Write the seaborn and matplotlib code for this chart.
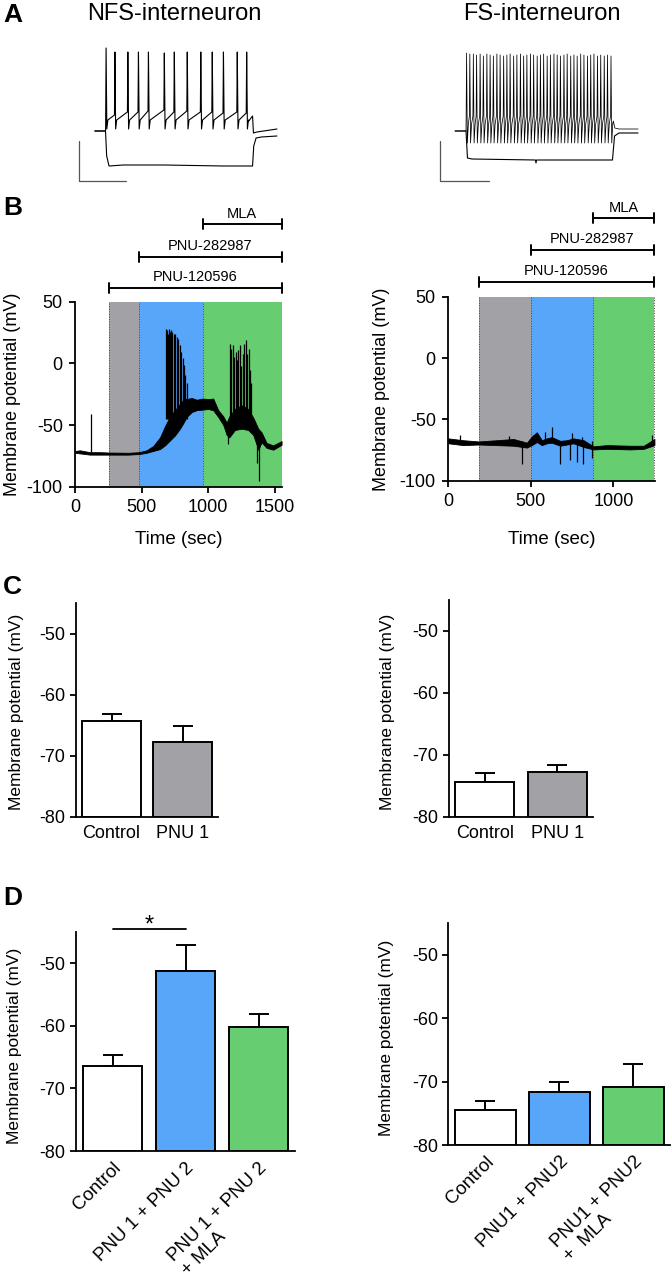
import numpy as np
import pandas as pd
import matplotlib
matplotlib.use("Agg")
import matplotlib.pyplot as plt
import seaborn as sns

# colours of the three drug conditions
GREY = "#A2A2A6"
BLUE = "#57A6FA"
GREEN = "#66CE70"

# ---------------- A : step responses (ms from step onset, mV) ----------------
nfs_spike_t = [2, 32, 76, 112, 146, 200, 234, 278, 324, 363, 401, 448, 480]
nfs_spike_peak = [18, 14, 14, 14, 14, 13, 14, 14, 14, 14, 14, 14, 14]
nfs_ramp_top = [-60, -49, -46, -46, -45, -44, -46, -45, -46, -46, -47, -46, -47]
nfs_hyper_t = [-35, 0, 4, 12, 60, 200, 400, 500, 504, 512, 530, 583]
nfs_hyper_v = [-65, -65, -90, -100, -99, -99, -100, -100, -80, -72, -71, -70]

fs_spike_t = [2, 13, 25, 36, 48, 59, 71, 82, 93, 105, 116, 128, 139, 150, 162,
              173, 185, 196, 207, 219, 230, 242, 253, 264, 276, 287, 299, 310,
              321, 333, 344, 356, 367, 378, 390, 401, 413, 424, 435, 447, 458,
              470, 481, 493]
fs_spike_peak = [13, 12, 12, 11, 12, 10, 12, 11, 10, 12, 11, 10, 11, 12, 10,
                 11, 12, 10, 11, 12, 11, 10, 11, 12, 10, 11, 12, 11, 10, 11,
                 12, 10, 11, 10, 12, 11, 10, 11, 12, 10, 11, 10, 11, 10]
fs_hyper_t = [-37, 0, 5, 20, 236, 238, 240, 498, 505, 520, 585]
fs_hyper_v = [-65, -65, -92, -93, -94, -97, -94, -94, -70, -67, -67]

# ---------------- B : whole-cell recordings (s, mV) ----------------
nfs_drug_on = [256, 481, 958, 1552]     # PNU-120596, PNU-282987, MLA, end
fs_drug_on = [184, 500, 879, 1248]

nfs_env_t = [0, 35, 110, 185, 256, 400, 481, 536, 586, 637, 674, 712, 749, 787,
             817, 837, 875, 912, 957, 1000, 1037, 1075, 1113, 1138, 1158, 1200,
             1250, 1300, 1338, 1376, 1401, 1438, 1488, 1551]
nfs_env_hi = [-71, -70.5, -72, -72, -72.3, -72.5, -72, -70.5, -67, -60, -51, -43,
              -38, -33, -29, -29, -28, -29.5, -28.5, -29, -28.5, -38, -43, -48,
              -43, -37, -34, -37, -44, -53, -56, -64.5, -66.5, -63]
nfs_env_lo = [-72.5, -73, -74, -74, -74, -74, -73.5, -72.5, -71, -69.5, -66.5,
              -62.5, -58.5, -53, -47.5, -43.5, -39.5, -38, -37.5, -37, -38,
              -43.5, -50, -58, -60, -54, -53, -54, -58, -70, -64, -68.5,
              -70, -66]
nfs_spk_t = [115, 682, 687, 694, 702, 709, 719, 729, 739, 749, 762, 774, 787,
             797, 807, 817, 827, 837, 1163, 1173, 1183, 1193, 1205, 1215, 1225,
             1238, 1248, 1258, 1271, 1281, 1293, 1303, 1313, 1323, 1150, 1363,
             1383]
nfs_spk_v = [-41, 28, 27, 24, 27.5, 25.5, 27, 25.5, 24, 24, 21.5, 20, 15, 9.5,
             4, -1.5, -9.5, -16, 16, 12, 15, 5.5, 9.5, 2.5, 11, 15, -2.5, 8,
             16, 19, 8, 12, -5.5, -16, -65, -81, -95]
nfs_spk_base = [-72] + [-45] * 17 + [-45] * 16 + [-55, -55, -60]

fs_env_t = [0, 91, 184, 293, 395, 476, 506, 536, 567, 597, 627, 678, 718, 759,
            820, 880, 961, 1103, 1184, 1249]
fs_env_hi = [-65.5, -67, -68, -67, -66, -69, -64, -60.5, -67, -65.5, -64.5,
             -67.5, -67, -65.5, -67, -72, -71, -71.5, -71.5, -66]
fs_env_lo = [-69.5, -71, -70.5, -71, -71.5, -73, -71, -68.5, -71, -69.5,
             -69, -71.5, -70.5, -69.5, -72.5, -74.5, -74, -74.5, -74, -71]
fs_spk_t = [71, 368, 587, 629, 749, 810, 1235, 448, 678, 735, 779, 816, 870]
fs_spk_v = [-63, -63.6, -60, -56.5, -61.4, -64, -63, -86.4, -86.4, -83, -84.5,
            -86, -81.8]

bracket_names = ["PNU-120596", "PNU-282987", "MLA"]

# ---------------- C and D : mean membrane potential (mV) ----------------
c_labels = ["Control", "PNU 1"]
c_nfs_mean = [-64.4, -67.7]
c_nfs_sem = [1.2, 2.6]
c_fs_mean = [-74.4, -72.7]
c_fs_sem = [1.5, 1.0]

d_nfs_labels = ["Control", "PNU 1 + PNU 2", "PNU 1 + PNU 2\n+ MLA"]
d_nfs_mean = [-66.4, -51.3, -60.2]
d_nfs_sem = [1.8, 4.1, 2.0]
d_fs_labels = ["Control", "PNU1 + PNU2", "PNU1 + PNU2\n+  MLA"]
d_fs_mean = [-74.5, -71.7, -70.9]
d_fs_sem = [1.5, 1.6, 3.7]

# ------------------------------------------------------------------------
sns.set_style("ticks")
plt.rcParams["font.family"] = ["Liberation Sans", "DejaVu Sans"]
plt.rcParams["axes.unicode_minus"] = False
plt.rcParams["axes.linewidth"] = 1.3
for key in ["text.color", "axes.labelcolor", "axes.edgecolor",
            "xtick.color", "ytick.color"]:
    plt.rcParams[key] = "black"

W, H = 672, 1281
fig = plt.figure(figsize=(W / 100, H / 100), dpi=100)


def px_axes(l, t, r, b):
    return fig.add_axes([l / W, 1 - b / H, (r - l) / W, (b - t) / H])


def step_trace(spike_t, peaks, ramp_top, trough, rec, tail_t, tail_v):
    t, v = [-37, 0], [-65, -65]
    for ts, pk, rt in zip(spike_t, peaks, ramp_top):
        t += [ts - 1.5, ts, ts + 2.5, ts + 6]
        v += [rt, pk, trough, trough + rec]
    return t + tail_t, v + tail_v


# ---- A
for lbl, x, y in [("A", 3, 15), ("B", 3, 208), ("C", 3, 587), ("D", 3, 898)]:
    fig.text(x / W, 1 - y / H, lbl, fontsize=19, fontweight="bold",
             ha="left", va="center")
fig.text(174 / W, 1 - 14 / H, "NFS-interneuron", fontsize=17, ha="center", va="center")
fig.text(542 / W, 1 - 14 / H, "FS-interneuron", fontsize=17, ha="center", va="center")

axa = px_axes(70, 40, 290, 190)
t, v = step_trace(nfs_spike_t, nfs_spike_peak, nfs_ramp_top, -63, 9,
                  [487, 500, 503, 515, 583], [-55, -50, -67, -66, -63])
axa.plot(t, v, color="k", lw=0.8)
axa.plot(nfs_hyper_t, nfs_hyper_v, color="k", lw=0.8)
axa.plot([-90, -90, 70], [-75, -115, -115], color="#555555", lw=0.9)
axa.set_xlim(-120.7, 627.3)
axa.set_ylim(-124, 26)
axa.axis("off")

axa2 = px_axes(430, 40, 660, 190)
t, v = step_trace(fs_spike_t, fs_spike_peak, [-50] * len(fs_spike_t), -77, 19,
                  [498.5, 501, 506, 520, 585], [-58, -55, -62, -63, -63])
axa2.plot(t, v, color="k", lw=0.55)
axa2.plot(fs_hyper_t, fs_hyper_v, color="k", lw=0.8)
axa2.plot([-88, -88, 78], [-75, -115, -115], color="#555555", lw=0.9)
axa2.set_xlim(-122.4, 659.6)
axa2.set_ylim(-124, 26)
axa2.axis("off")


# ---- B
def trace_panel(ax, drug_on, env_t, hi, lo, spk_t, spk_v, spk_base, xmax,
                xticks, br_y, xlabelpad):
    cols = [GREY, BLUE, GREEN]
    for i in range(3):
        ax.axvspan(drug_on[i], drug_on[i + 1], color=cols[i], lw=0, zorder=0)
    for x in drug_on:
        ax.axvline(x, color="#444444", lw=0.7, ls=":", zorder=0.5)
    ax.fill_between(env_t, lo, hi, color="k", lw=0.6, zorder=2)
    ax.vlines(spk_t, spk_base, spk_v, color="k", lw=0.9, zorder=2)
    ax.set_xlim(0, xmax)
    ax.set_ylim(-100, 50)
    ax.set_xticks(xticks)
    ax.set_yticks([-100, -50, 0, 50])
    ax.tick_params(labelsize=13, length=4.5, width=1.3, direction="out", pad=4.5)
    ax.set_xlabel("Time (sec)", fontsize=13.5, labelpad=xlabelpad)
    sns.despine(ax=ax)
    # drug application brackets
    for i, name in enumerate(bracket_names):
        x0, x1, y = drug_on[i], drug_on[3], br_y[i]
        ax.plot([x0, x1], [y, y], color="k", lw=1.4, clip_on=False)
        ax.plot([x0, x0], [y - 4, y + 4], color="k", lw=1.4, clip_on=False)
        ax.plot([x1, x1], [y - 4, y + 4], color="k", lw=1.4, clip_on=False)
        ax.text((x0 + x1) / 2, y + 3, name, ha="center", va="bottom",
                fontsize=10.5, clip_on=False)


axb = px_axes(75.3, 301.7, 282.1, 486.7)
trace_panel(axb, nfs_drug_on, nfs_env_t, nfs_env_hi, nfs_env_lo, nfs_spk_t,
            nfs_spk_v, nfs_spk_base, 1555, [0, 500, 1000, 1500],
            [61, 86.5, 112.8], 11)
axb2 = px_axes(448.3, 296.7, 654.6, 480.7)
trace_panel(axb2, fs_drug_on, fs_env_t, fs_env_hi, fs_env_lo, fs_spk_t,
            fs_spk_v, [-68] * len(fs_spk_t), 1250, [0, 500, 1000],
            [62, 88, 114], 15)
fig.text(13 / W, 1 - 394 / H, "Membrane potential (mV)", rotation=90,
         fontsize=13, ha="center", va="center")
fig.text(382 / W, 1 - 389 / H, "Membrane potential (mV)", rotation=90,
         fontsize=13, ha="center", va="center")

# ---- C and D
FLOOR = -80


def bar_panel(ax, labels, means, sems, colors, rotate=False):
    df = pd.DataFrame({"cond": labels, "rise": np.array(means) - FLOOR})
    sns.barplot(data=df, x="cond", y="rise", hue="cond",
                palette=dict(zip(labels, colors)), saturation=1, width=0.82,
                edgecolor="k", linewidth=1.4, errorbar=None, legend=False,
                bottom=FLOOR, ax=ax)
    n = len(labels)
    ax.errorbar(np.arange(n), means, yerr=[np.zeros(n), sems], fmt="none",
                ecolor="k", elinewidth=1.4, capsize=7.5, capthick=1.4, zorder=0.9)
    ax.set_xlim(-0.5, n - 0.5)
    ax.set_ylim(FLOOR, -45)
    ax.set_yticks([-80, -70, -60, -50])
    ax.set_xlabel("")
    ax.set_ylabel("")
    ax.tick_params(axis="y", labelsize=13, length=4, width=1.3)
    ax.tick_params(axis="x", labelsize=13.5 if rotate else 13, length=0, pad=6)
    if rotate:
        for t in ax.get_xticklabels():
            t.set_rotation(45)
            t.set_ha("right")
            t.set_va("top")
            t.set_rotation_mode("anchor")
            t.set_multialignment("left")
    sns.despine(ax=ax)


axc = px_axes(76, 603, 218, 816.7)
bar_panel(axc, c_labels, c_nfs_mean, c_nfs_sem, ["white", GREY])
axc2 = px_axes(448.7, 600, 593.3, 816.7)
bar_panel(axc2, c_labels, c_fs_mean, c_fs_sem, ["white", GREY])

axd = px_axes(76, 931.7, 295, 1151)
bar_panel(axd, d_nfs_labels, d_nfs_mean, d_nfs_sem, ["white", BLUE, GREEN], rotate=True)
axd.plot([0, 1], [-44.5, -44.5], color="k", lw=1.3, clip_on=False)
axd.text(0.5, -44.0, "*", ha="center", va="center", fontsize=17, clip_on=False)
axd2 = px_axes(448.3, 923.3, 670.3, 1145)
bar_panel(axd2, d_fs_labels, d_fs_mean, d_fs_sem, ["white", BLUE, GREEN], rotate=True)

for x, y in [(17, 712), (388, 712), (15, 1046), (387, 1038)]:
    fig.text(x / W, 1 - y / H, "Membrane potential (mV)", rotation=90,
             fontsize=12.5, ha="center", va="center")

fig.savefig("out.png", dpi=100)
